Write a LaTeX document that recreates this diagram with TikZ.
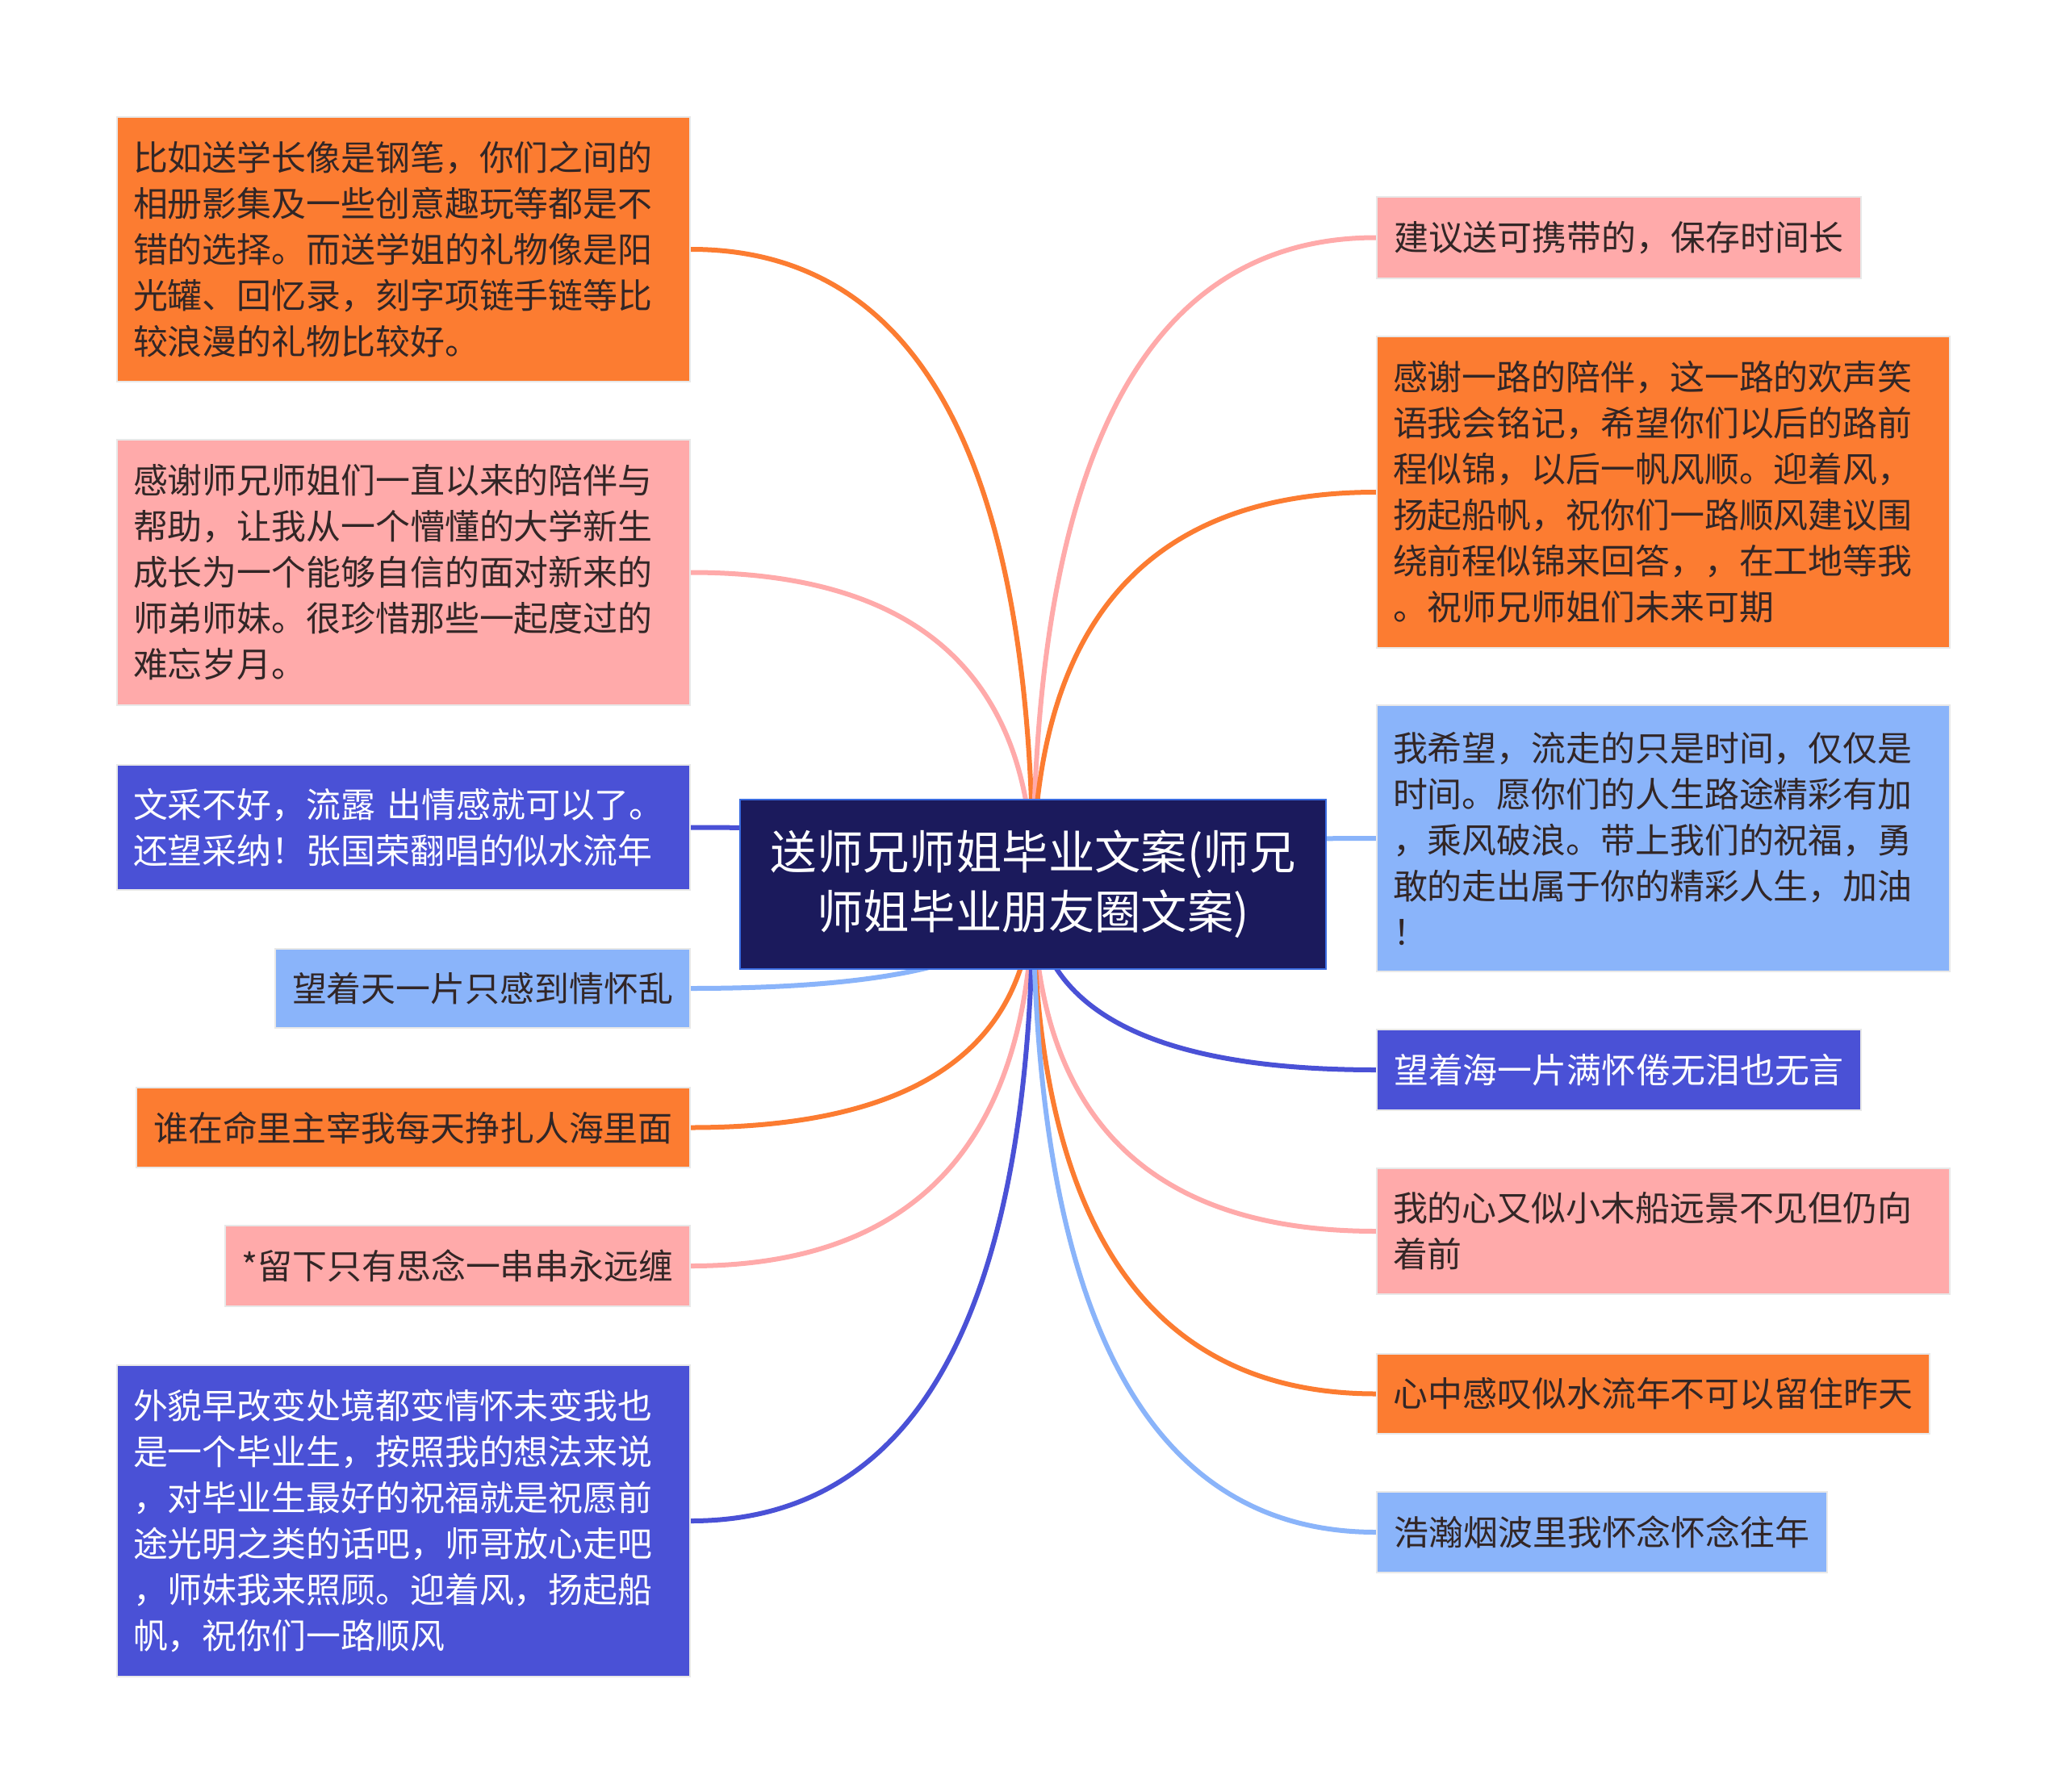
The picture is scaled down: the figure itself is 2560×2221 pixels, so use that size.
\documentclass[tikz,border=0pt]{standalone}
\usepackage{fontspec}
\setmainfont{Noto Sans CJK SC}
\usetikzlibrary{calc}
\definecolor{mmorange}{RGB}{252,124,49}
\definecolor{mmpink}{RGB}{255,170,170}
\definecolor{mmblue}{RGB}{74,81,214}
\definecolor{mmlight}{RGB}{138,180,250}
\definecolor{mmnavy}{RGB}{27,26,92}
\definecolor{mmnavyb}{RGB}{58,108,224}
\definecolor{mmtext}{RGB}{50,38,38}
\definecolor{mmedge}{RGB}{232,232,232}
\pgfdeclarelayer{bg}
\pgfsetlayers{bg,main}
\newcommand\mmconn[3]{\draw[line width=3pt,#1] (c.center) .. controls ($(c.center)!0.6667!(c.center|-#2.#3)$) and ($(#2.#3)!0.6667!(c.center|-#2.#3)$) .. (#2.#3);}
\tikzset{
  mmbox/.style={draw=mmedge, line width=1pt, inner xsep=10pt, inner ysep=3pt, anchor=north west,
    font=\fontsize{21.45pt}{28.5pt}\selectfont, text=mmtext, align=left},
  mmwhite/.style={text=white}
}
\begin{document}
\begin{tikzpicture}[x=0.5pt,y=-0.5pt]
\useasboundingbox (0,0) rectangle (2560,2221);
% root
\node[fill=mmnavy, draw=mmnavyb, line width=1pt, minimum width=363pt, minimum height=105pt,
  text width=345pt, align=center, font=\fontsize{28.7pt}{36.75pt}\selectfont, text=white]
  (c) at (1280,1096) {送师兄师姐毕业文案(师兄\\师姐毕业朋友圈文案)};
% left
\node[mmbox, fill=mmorange, minimum width=355pt, minimum height=164pt, text width=335pt] (L1) at (144,144)
  {比如送学长像是钢笔，你们之间的\\相册影集及一些创意趣玩等都是不\\错的选择。而送学姐的礼物像是阳\\光罐、回忆录，刻字项链手链等比\\较浪漫的礼物比较好。};
\node[mmbox, fill=mmpink, minimum width=355pt, minimum height=164.5pt, text width=335pt] (L2) at (144,544)
  {感谢师兄师姐们一直以来的陪伴与\\帮助，让我从一个懵懂的大学新生\\成长为一个能够自信的面对新来的\\师弟师妹。很珍惜那些一起度过的\\难忘岁月。};
\node[mmbox, mmwhite, fill=mmblue, minimum width=355pt, minimum height=77.5pt, text width=335pt] (L3) at (144,947)
  {文采不好，流露 出情感就可以了。\\还望采纳！张国荣翻唱的似水流年};
\node[mmbox, fill=mmlight, minimum width=257pt, minimum height=49pt] (L4) at (340,1175)
  {望着天一片只感到情怀乱};
\node[mmbox, fill=mmorange, minimum width=343pt, minimum height=49.5pt] (L5) at (168,1347)
  {谁在命里主宰我每天挣扎人海里面};
\node[mmbox, fill=mmpink, minimum width=288pt, minimum height=50pt] (L6) at (278,1518)
  {*留下只有思念一串串永远缠};
\node[mmbox, mmwhite, fill=mmblue, minimum width=355pt, minimum height=193pt, text width=335pt] (L7) at (144,1691)
  {外貌早改变处境都变情怀未变我也\\是一个毕业生，按照我的想法来说\\，对毕业生最好的祝福就是祝愿前\\途光明之类的话吧，师哥放心走吧\\，师妹我来照顾。迎着风，扬起船\\帆，祝你们一路顺风};
% right
\node[mmbox, fill=mmpink, minimum width=300pt, minimum height=50.5pt] (R1) at (1705,243)
  {建议送可携带的，保存时间长};
\node[mmbox, fill=mmorange, minimum width=355pt, minimum height=193pt, text width=335pt] (R2) at (1705,416)
  {感谢一路的陪伴，这一路的欢声笑\\语我会铭记，希望你们以后的路前\\程似锦，以后一帆风顺。迎着风，\\扬起船帆，祝你们一路顺风建议围\\绕前程似锦来回答，，在工地等我\\。祝师兄师姐们未来可期};
\node[mmbox, fill=mmlight, minimum width=355pt, minimum height=165pt, text width=335pt] (R3) at (1705,873)
  {我希望，流走的只是时间，仅仅是\\时间。愿你们的人生路途精彩有加\\，乘风破浪。带上我们的祝福，勇\\敢的走出属于你的精彩人生，加油\\！};
\node[mmbox, mmwhite, fill=mmblue, minimum width=300pt, minimum height=50pt] (R4) at (1705,1275)
  {望着海一片满怀倦无泪也无言};
\node[mmbox, fill=mmpink, minimum width=355pt, minimum height=78pt, text width=335pt] (R5) at (1705,1447)
  {我的心又似小木船远景不见但仍向\\着前};
\node[mmbox, fill=mmorange, minimum width=342.5pt, minimum height=49.5pt] (R6) at (1705,1677)
  {心中感叹似水流年不可以留住昨天};
\node[mmbox, fill=mmlight, minimum width=279pt, minimum height=50pt] (R7) at (1705,1848)
  {浩瀚烟波里我怀念怀念往年};
% connectors
\begin{pgfonlayer}{bg}
\fill[white] (0,0) rectangle (2560,2221);
\mmconn{mmorange}{L1}{east}
\mmconn{mmpink}{L2}{east}
\mmconn{mmblue}{L3}{east}
\mmconn{mmlight}{L4}{east}
\mmconn{mmorange}{L5}{east}
\mmconn{mmpink}{L6}{east}
\mmconn{mmblue}{L7}{east}
\mmconn{mmpink}{R1}{west}
\mmconn{mmorange}{R2}{west}
\mmconn{mmlight}{R3}{west}
\mmconn{mmblue}{R4}{west}
\mmconn{mmpink}{R5}{west}
\mmconn{mmorange}{R6}{west}
\mmconn{mmlight}{R7}{west}
\end{pgfonlayer}
\end{tikzpicture}
\end{document}
